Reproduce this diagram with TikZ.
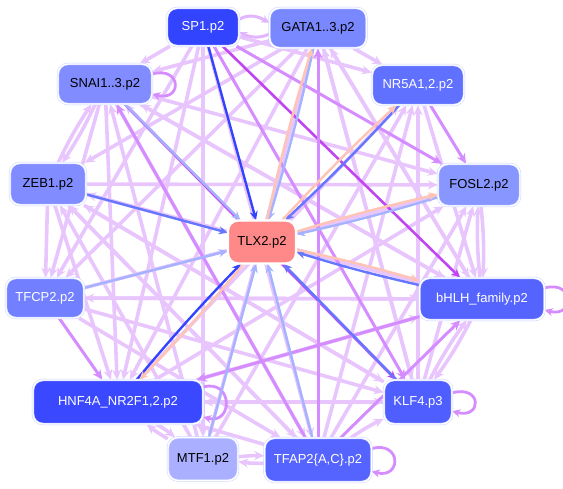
\documentclass[tikz,border=0pt]{standalone}
\usepackage{fontspec}
\setmainfont{Liberation Sans}
\usetikzlibrary{arrows.meta}
\pgfdeclarelayer{bg}
\pgfdeclarelayer{mid}
\pgfsetlayers{bg,mid,main}
\definecolor{lpc}{HTML}{E8C6FD}
\definecolor{mpc}{HTML}{D58CFF}
\definecolor{dpc}{HTML}{C046F2}
\definecolor{dbc}{HTML}{3344FF}
\definecolor{mbc}{HTML}{6677FF}
\definecolor{lbc}{HTML}{A4B2FF}
\definecolor{slc}{HTML}{FFC4B4}
\definecolor{bord}{HTML}{CBD3FF}
\tikzset{
  gnode/.style={rounded corners=10pt, minimum height=40pt, inner sep=0pt,
    draw=bord, double=white, double distance=1.4pt, line width=0.5pt,
    font=\fontsize{13}{15}\selectfont},
  lp/.style={draw=lpc, line width=3.6pt, -{Stealth[length=10pt,width=9pt]}},
  mp/.style={draw=mpc, line width=3pt, -{Stealth[length=10pt,width=9pt]}},
  dp/.style={draw=dpc, line width=2.6pt, -{Stealth[length=9pt,width=8pt]}},
  db/.style={draw=dbc, line width=2.4pt, -{Stealth[length=9pt,width=8pt]}},
  mb/.style={draw=mbc, line width=2.4pt, -{Stealth[length=9pt,width=8pt]}},
  lb/.style={draw=lbc, line width=2.4pt, -{Stealth[length=9pt,width=8pt]}},
  sl/.style={draw=slc, line width=2.4pt, -{Stealth[length=9pt,width=8pt]}},
  slp/.style={draw=mpc, line width=2.8pt, -{Stealth[length=8pt,width=8pt]}},
  pair/.style={draw=lpc!70!mpc, line width=3pt, -{Stealth[length=8pt,width=8pt]}},
}
\begin{document}
\begin{tikzpicture}[x=1pt,y=-1pt]
\useasboundingbox (0,0) rectangle (563,489);
% nodes
\node[gnode, fill=dbc, text=white, minimum width=72pt, minimum height=38pt] (sp) at (203,27) {SP1.p2};
\node[gnode, fill={rgb,255:red,122;green,136;blue,255}, minimum width=97pt] (ga) at (318,28) {GATA1..3.p2};
\node[gnode, fill={rgb,255:red,128;green,140;blue,255}, minimum width=94pt] (sn) at (105,84) {SNAI1..3.p2};
\node[gnode, fill={rgb,255:red,96;green,112;blue,255}, text=white, minimum width=92pt] (nr) at (418,85) {NR5A1,2.p2};
\node[gnode, fill={rgb,255:red,128;green,140;blue,255}, minimum width=76pt, minimum height=42pt] (ze) at (48,184) {ZEB1.p2};
\node[gnode, fill={rgb,255:red,136;green,150;blue,255}, minimum width=82pt, minimum height=42pt] (fo) at (479,185) {FOSL2.p2};
\node[gnode, fill={rgb,255:red,255;green,136;blue,136}, draw=white, minimum width=68pt, minimum height=43pt] (tl) at (262,242) {TLX2.p2};
\node[gnode, fill={rgb,255:red,114;green,128;blue,255}, text=white, minimum width=78pt] (tf) at (45,298) {TFCP2.p2};
\node[gnode, fill={rgb,255:red,86;green,100;blue,255}, text=white, minimum width=125pt, minimum height=42pt] (bh) at (482,299) {bHLH\_family.p2};
\node[gnode, fill={rgb,255:red,58;green,72;blue,255}, text=white, minimum width=170pt, minimum height=44pt] (hn) at (118,402) {HNF4A\_NR2F1,2.p2};
\node[gnode, fill={rgb,255:red,78;green,94;blue,255}, text=white, minimum width=68pt, minimum height=44pt] (kl) at (418,402) {KLF4.p3};
\node[gnode, fill={rgb,255:red,170;green,176;blue,255}, minimum width=70pt, minimum height=43pt] (mt) at (203,459) {MTF1.p2};
\node[gnode, fill={rgb,255:red,86;green,100;blue,255}, text=white, minimum width=107pt, minimum height=44pt] (ta) at (318,460) {TFAP2\{A,C\}.p2};
% light purple edges
\begin{pgfonlayer}{bg}
\foreach \a/\b in {sp/sn, sp/tf, sp/hn, sp/mt, sp/ta, sp/nr,
  ga/ze, ga/nr, ga/tf, ga/hn, ga/mt, ga/bh, ga/kl, ga/sn,
  sn/tf, sn/hn, sn/ta, sn/bh, sn/fo,
  ze/fo, ze/bh, ze/kl, ze/tf, ze/hn, ze/ta,
  nr/bh, ta/nr, kl/nr, mt/nr, hn/nr,
  tf/fo, hn/fo, kl/fo, ta/fo,
  tf/bh, tf/kl, tf/ta,
  hn/bh, hn/kl,
  kl/ga, bh/ga, ta/ze, ta/hn,
  kl/hn, kl/sn, kl/ze, bh/hn, bh/tf, bh/ze, bh/sn, mt/sn, mt/ze}
  \draw[lp] (\a) -- (\b);
\draw[lp] (sn) to[bend left=4] (ze);
\draw[lp] (ze) to[bend left=4] (sn);
\draw[lp] (fo) to[bend left=4] (bh);
\draw[lp] (bh) to[bend left=4] (fo);
\draw[lp] (hn) to[bend left=4] (mt);
\draw[lp] (mt) to[bend left=4] (hn);
\draw[lp] (mt) to[bend left=4] (ta);
\draw[lp] (ta) to[bend left=4] (mt);
\draw[lp] (kl) to[bend left=4] (bh);
\draw[lp] (bh) to[bend left=4] (kl);
\draw[lp] (ta) to[bend left=4] (kl);
\end{pgfonlayer}
% medium / dark purple edges and self loops
\begin{pgfonlayer}{mid}
\draw[pair] (sp.12) .. controls +(10,-6) and +(-10,-6) .. (ga.174);
\draw[pair] (ga.187) .. controls +(-10,5) and +(10,5) .. (sp.-8);
\draw[mp] (sp) -- (kl);
\draw[mp] (sp) -- (fo);
\draw[dp] (sp) -- (bh);
\draw[dp] (sn) -- (kl);
\draw[mp] (nr) -- (fo);
\draw[mp] (tf) -- (hn);
\draw[mp] (ta) -- (ga);
\draw[mp] (ta) -- (bh);
\draw[mp] (ta) -- (sn);
\draw[mp] (bh) -- (hn);
\draw[slp] (sn.12) .. controls +(30,-8) and +(30,8) .. (sn.-12);
\draw[slp] (hn.10) .. controls +(30,-8) and +(30,8) .. (hn.-10);
\draw[slp] (kl.15) .. controls +(30,-8) and +(30,8) .. (kl.-15);
\draw[slp] (ta.12) .. controls +(30,-8) and +(30,8) .. (ta.-12);
\draw[slp] (bh.10) .. controls +(30,-8) and +(30,8) .. (bh.-10);
% edges into / out of TLX2
\draw[db] (sp) -- (tl);
\draw[lb] (sn) -- (tl);
\draw[mb] (ze) -- (tl);
\draw[lb] (tf) -- (tl);
\draw[db] (hn) to[bend left=2] (tl);
\draw[sl] (tl) to[bend left=2] (hn);
\draw[lb] (mt) -- (tl);
\draw[lb] (ta) -- (tl);
\draw[mb] (kl) -- (tl);
\draw[mb] (bh) to[bend left=2] (tl);
\draw[sl] (tl) to[bend left=2] (bh);
\draw[lb] (fo) to[bend left=2] (tl);
\draw[sl] (tl) to[bend left=2] (fo);
\draw[mb] (nr) to[bend left=2] (tl);
\draw[sl] (tl) to[bend left=2] (nr);
\draw[lb] (ga) to[bend left=2] (tl);
\draw[sl] (tl) to[bend left=2] (ga);
\end{pgfonlayer}
\end{tikzpicture}
\end{document}
